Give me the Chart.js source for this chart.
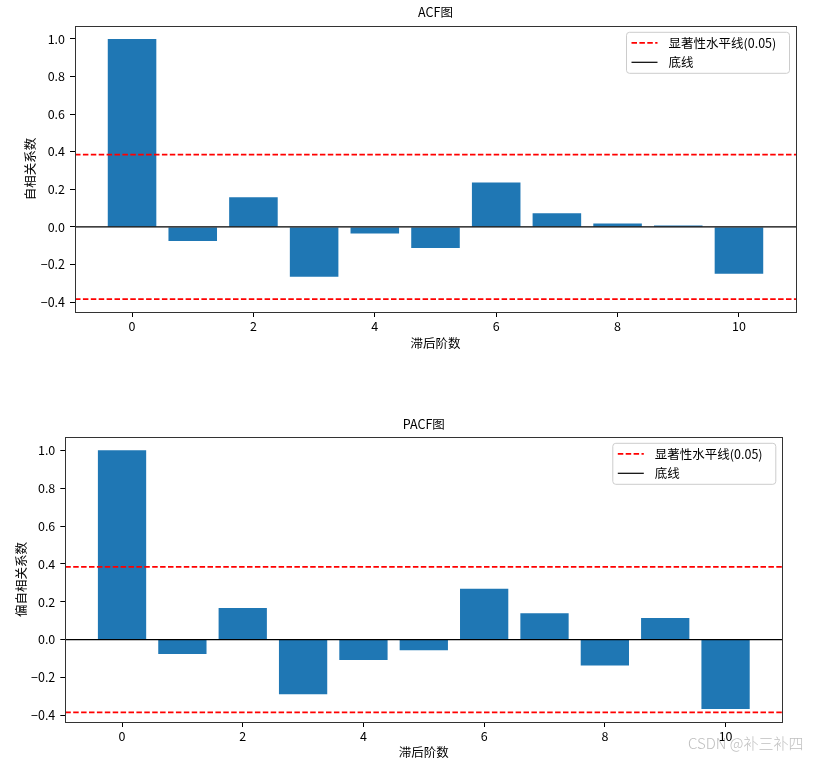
<!DOCTYPE html>
<html>
<head>
<meta charset="utf-8">
<script src="https://cdn.jsdelivr.net/npm/chart.js@4/dist/chart.umd.min.js"></script>
<style>
  html, body { margin: 0; padding: 0; background: #fff; overflow: hidden; }
  #wrap { position: relative; width: 816px; height: 758px; overflow: hidden; background: #fff; }
  canvas { position: absolute; left: 0; }
  #wm { position: absolute; left: 688px; top: 732px; font-family: 'Noto Sans CJK SC', sans-serif;
        font-size: 15px; font-weight: 300; color: rgba(175,175,175,0.8); white-space: nowrap; }
</style>
</head>
<body>
<div id="wrap">
  <canvas id="acf" width="816" height="379" style="top:0px"></canvas>
  <canvas id="pacf" width="816" height="390" style="top:379px"></canvas>
  <div id="wm">CSDN @补三补四</div>
</div>
<script>
// ---- data ----
const lags = [0, 1, 2, 3, 4, 5, 6, 7, 8, 9, 10];
const acfValues = [1.0, -0.075, 0.158, -0.266, -0.035, -0.112, 0.236, 0.073, 0.018, 0.007, -0.250];
const pacfValues = [1.0, -0.076, 0.167, -0.289, -0.107, -0.056, 0.268, 0.139, -0.137, 0.114, -0.366];
const sigLevel = 0.384;
const xTicks = [0, 2, 4, 6, 8, 10];
const yTicks = [-0.4, -0.2, 0.0, 0.2, 0.4, 0.6, 0.8, 1.0];
const xRange = [-0.94, 10.94];
const sigLabel = '显著性水平线(0.05)';
const baseLabel = '底线';

const FONT = "'Noto Sans CJK SC', 'Noto Sans', sans-serif";
const FS = 12.5;
Chart.defaults.font.family = FONT;
Chart.defaults.font.size = FS;
Chart.defaults.color = '#000';

const framePlugin = {
  id: 'frame',
  afterDraw(chart) {
    const a = chart.chartArea, ctx = chart.ctx;
    ctx.save();
    ctx.strokeStyle = '#333';
    ctx.lineWidth = 1;
    ctx.strokeRect(Math.round(a.left) + 0.5, Math.round(a.top) + 0.5,
                   Math.round(a.right) - Math.round(a.left), Math.round(a.bottom) - Math.round(a.top));
    // legend
    const items = chart.data.datasets.filter(d => d.inLegend);
    const w = 163, h = 41;
    const fx = a.right - 6.5 - w, fy = a.top + 6.3;
    ctx.beginPath();
    const r = 3;
    ctx.moveTo(fx + r, fy);
    ctx.arcTo(fx + w, fy, fx + w, fy + h, r);
    ctx.arcTo(fx + w, fy + h, fx, fy + h, r);
    ctx.arcTo(fx, fy + h, fx, fy, r);
    ctx.arcTo(fx, fy, fx + w, fy, r);
    ctx.closePath();
    ctx.fillStyle = 'rgba(255,255,255,0.8)';
    ctx.fill();
    ctx.strokeStyle = '#cccccc';
    ctx.lineWidth = 1;
    ctx.stroke();
    items.forEach((d, i) => {
      const y = fy + 10.5 + i * 19.5;
      ctx.beginPath();
      ctx.setLineDash(d.borderDash || []);
      ctx.strokeStyle = d.borderColor;
      ctx.lineWidth = d.borderWidth;
      ctx.moveTo(fx + 5, y);
      ctx.lineTo(fx + 31, y);
      ctx.stroke();
      ctx.setLineDash([]);
      ctx.fillStyle = '#000';
      ctx.font = FS + 'px ' + FONT;
      ctx.textBaseline = 'middle';
      ctx.textAlign = 'left';
      ctx.fillText(d.label, fx + 42, y);
    });
    ctx.restore();
  }
};

function makeChart(id, values, title, yTitle, L) {
  const ctx = document.getElementById(id);
  return new Chart(ctx, {
    type: 'bar',
    data: {
      labels: lags,
      datasets: [
        { type: 'line', label: sigLabel, inLegend: true,
          data: [{x: xRange[0], y: sigLevel}, {x: xRange[1], y: sigLevel}],
          borderColor: '#ff0000', borderWidth: 1.8, borderDash: [5.5, 2.4], pointRadius: 0, order: 1 },
        { type: 'line', label: '', inLegend: false,
          data: [{x: xRange[0], y: -sigLevel}, {x: xRange[1], y: -sigLevel}],
          borderColor: '#ff0000', borderWidth: 1.8, borderDash: [5.5, 2.4], pointRadius: 0, order: 1 },
        { type: 'line', label: baseLabel, inLegend: true,
          data: [{x: xRange[0], y: 0}, {x: xRange[1], y: 0}],
          borderColor: '#000000', borderWidth: 1.2, pointRadius: 0, order: 2 },
        { type: 'bar', label: 'values', inLegend: false, data: values,
          backgroundColor: '#1f77b4', borderWidth: 0, barPercentage: 1.0, categoryPercentage: 0.8, order: 3 }
      ]
    },
    options: {
      responsive: false,
      animation: false,
      events: [],
      layout: { padding: { left: L.padLeft, right: L.padRight, top: L.padTop, bottom: L.padBottom } },
      plugins: {
        legend: { display: false },
        tooltip: { enabled: false },
        title: { display: true, text: title, fullSize: false, color: '#000',
                 font: { size: FS, weight: 'normal', lineHeight: 1.2 },
                 padding: { top: L.titleTop, bottom: L.titleBottom } }
      },
      scales: {
        x: {
          type: 'linear', min: xRange[0], max: xRange[1], offset: false,
          grid: { display: true, drawOnChartArea: false, drawTicks: true, tickLength: 5, color: '#000', offset: false },
          border: { display: false },
          afterBuildTicks: s => { s.ticks = xTicks.map(v => ({ value: v })); },
          ticks: { padding: 2, maxRotation: 0, autoSkip: false, callback: v => String(v), font: { size: FS } },
          title: { display: true, text: '滞后阶数', padding: { top: 0, bottom: 0 }, font: { size: FS, lineHeight: 1.2 } },
          afterFit: s => { s.height = L.xHeight; }
        },
        y: {
          type: 'linear', min: L.yMin, max: L.yMax,
          grid: { display: true, drawOnChartArea: false, drawTicks: true, tickLength: 5, color: '#000' },
          border: { display: false },
          afterBuildTicks: s => { s.ticks = yTicks.map(v => ({ value: v })); },
          ticks: { padding: 5, autoSkip: false,
                   callback: v => (v < 0 ? '\u2212' : '') + Math.abs(v).toFixed(1), font: { size: FS } },
          title: { display: true, text: yTitle, padding: { top: 0, bottom: 0 }, font: { size: FS, lineHeight: 1.2 } },
          afterFit: s => { s.width = L.yWidth; }
        }
      }
    },
    plugins: [framePlugin]
  });
}

makeChart('acf', acfValues, 'ACF图', '自相关系数', {
  padLeft: 22.5, padRight: 20, padTop: 0, padBottom: 28.5,
  titleTop: 5.2, titleBottom: 5.8, xHeight: 38.5, yWidth: 52.5,
  yMin: -0.453, yMax: 1.069
});
makeChart('pacf', pacfValues, 'PACF图', '偏自相关系数', {
  padLeft: 14.2, padRight: 33.7, padTop: 30, padBottom: 8.8,
  titleTop: 7.5, titleBottom: 5.5, xHeight: 38.2, yWidth: 51.1,
  yMin: -0.435, yMax: 1.070
});
</script>
</body>
</html>
